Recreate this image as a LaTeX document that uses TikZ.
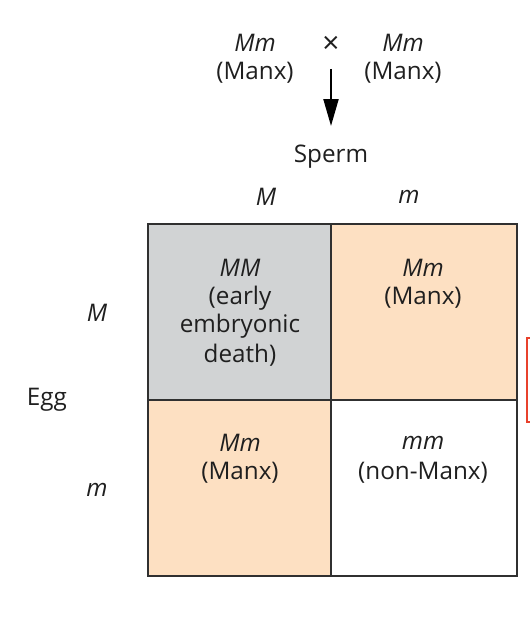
\documentclass[tikz,border=0pt]{standalone}
\usepackage{fontspec}
\setmainfont{Open Sans}
\usepackage{tikz}
\usetikzlibrary{arrows.meta}
\definecolor{peach}{HTML}{FDE0C2}
\definecolor{deadgray}{HTML}{D1D3D4}
\definecolor{gridline}{HTML}{303030}
\definecolor{boxred}{HTML}{E8412C}

\begin{document}
\begin{tikzpicture}[x=0.02cm, y=-0.02cm,
  lab/.style = {font=\fontsize{13.8}{16}\selectfont, text=black!88, inner sep=1pt},
  geno/.style = {lab, font=\fontsize{13.8}{16}\selectfont\itshape},
  cell/.style = {draw=gridline, line width=0.9pt}]
\useasboundingbox (0,0) rectangle (530,628);
% punnett square
\fill [deadgray] (148,224) rectangle (331,400); \fill [peach] (331,224) rectangle (517,400);
\fill [peach] (148,400) rectangle (331,576); \fill [white] (331,400) rectangle (517,576);
\draw [cell] (148,224) rectangle (517,576); \draw [cell] (331,224) -- (331,576); \draw [cell] (148,400) -- (517,400);
\draw [boxred, line width=1pt] (527,338) rectangle (560,422);
% cross
\node[geno](p1) at (255,43) {Mm}; \node[lab](p1n) at (255,73) {(Manx)};
\node[lab, font=\fontsize{17}{18}\selectfont](cross) at (331,45) {×};
\node[geno](p2) at (403,43) {Mm}; \node[lab](p2n) at (403,73) {(Manx)};
\node[lab](sperm) at (331,157) {Sperm};
\coordinate (arrtop) at (331,69); \coordinate (arrtip) at (331,126);
\draw [line width=1.2pt, -{Triangle[length=0.54cm, width=0.3cm]}] (arrtop) -- (arrtip);
% gamete labels
\node[geno](sM) at (266,197) {M}; \node[geno](sm) at (409,197) {m};
\node[geno](eM) at (97,313) {M}; \node[geno](em) at (97,490) {m};
\node[lab](egg) at (47,400) {Egg};
% offspring
\node[geno](c11) at (240,268) {MM}; \node[lab](c11a) at (240,298) {(early}; \node[lab](c11b) at (240,326) {embryonic}; \node[lab](c11c) at (240,355) {death)};
\node[geno](c12) at (423,268) {Mm}; \node[lab](c12a) at (423,298) {(Manx)};
\node[geno](c21) at (240,443) {Mm}; \node[lab](c21a) at (240,473) {(Manx)};
\node[geno](c22) at (423,443) {mm}; \node[lab](c22a) at (423,473) {(non-Manx)};
\end{tikzpicture}
\end{document}
